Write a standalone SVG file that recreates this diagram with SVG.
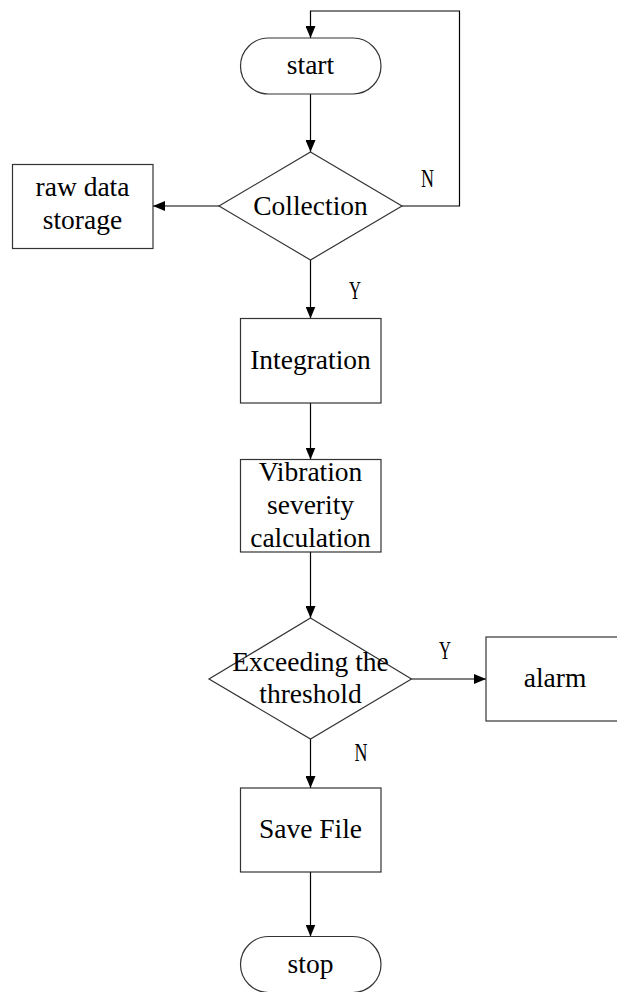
<svg xmlns="http://www.w3.org/2000/svg" width="617" height="992" viewBox="0 0 617 992">
<style>
.shape{fill:#fff;stroke:#333;stroke-width:1.2}
.line{fill:none;stroke:#000;stroke-width:1.2}
.t{font-family:"Liberation Serif","Times New Roman",serif;font-size:27.5px;fill:#000;text-anchor:middle}
.lbl{font-family:"Liberation Serif","Times New Roman",serif;font-size:25px;fill:#000;text-anchor:middle}
</style>
<defs>
<marker id="arr" viewBox="0 0 12 10" refX="12" refY="5" markerWidth="12" markerHeight="10" markerUnits="userSpaceOnUse" orient="auto">
<path d="M0,0 L12,5 L0,10 Z" fill="#000"/>
</marker>
</defs>
<rect width="617" height="992" fill="#fff"/>
<g id="connectors">
<path class="line" d="M402,206 H459.5 V11 H310.5 V38" marker-end="url(#arr)"/>
<path class="line" d="M310.5,94 V152" marker-end="url(#arr)"/>
<path class="line" d="M219,206 H153" marker-end="url(#arr)"/>
<path class="line" d="M310.5,260 V318.5" marker-end="url(#arr)"/>
<path class="line" d="M310.5,403 V459.5" marker-end="url(#arr)"/>
<path class="line" d="M310.5,552 V618" marker-end="url(#arr)"/>
<path class="line" d="M411.5,679 H486" marker-end="url(#arr)"/>
<path class="line" d="M310.5,739 V788" marker-end="url(#arr)"/>
<path class="line" d="M310.5,872 V936.5" marker-end="url(#arr)"/>
<text class="lbl" x="427.5" y="187" textLength="13" lengthAdjust="spacingAndGlyphs">N</text>
<text class="lbl" x="355" y="299" textLength="12" lengthAdjust="spacingAndGlyphs">Y</text>
<text class="lbl" x="445" y="659" textLength="12" lengthAdjust="spacingAndGlyphs">Y</text>
<text class="lbl" x="361" y="761" textLength="13" lengthAdjust="spacingAndGlyphs">N</text>
</g>
<g id="start">
<rect class="shape" x="240.5" y="38" width="140.5" height="56" rx="28" ry="28"/>
<text class="t" x="310.5" y="74">start</text>
</g>
<g id="collection">
<path class="shape" d="M310.5,152 L402,206 L310.5,260 L219,206 Z"/>
<text class="t" x="310.5" y="215">Collection</text>
</g>
<g id="raw-data-storage">
<rect class="shape" x="12.5" y="164.5" width="140.5" height="84"/>
<text class="t" x="82.5" y="196">raw data</text>
<text class="t" x="82.5" y="229">storage</text>
</g>
<g id="integration">
<rect class="shape" x="240.5" y="318.5" width="140.5" height="84.5"/>
<text class="t" x="310.5" y="369">Integration</text>
</g>
<g id="vibration">
<rect class="shape" x="240.5" y="459.5" width="140.5" height="92.5"/>
<text class="t" x="310.5" y="481">Vibration</text>
<text class="t" x="310.5" y="514">severity</text>
<text class="t" x="310.5" y="547">calculation</text>
</g>
<g id="threshold">
<path class="shape" d="M310.5,618 L411.5,679 L310.5,739 L209,679 Z"/>
<text class="t" x="310.5" y="671">Exceeding the</text>
<text class="t" x="310.5" y="703">threshold</text>
</g>
<g id="alarm">
<rect class="shape" x="486" y="637" width="141" height="84"/>
<text class="t" x="555" y="687">alarm</text>
</g>
<g id="save-file">
<rect class="shape" x="240.5" y="788" width="140.5" height="84"/>
<text class="t" x="310.5" y="838">Save File</text>
</g>
<g id="stop">
<rect class="shape" x="240.5" y="936.5" width="140.5" height="56" rx="28" ry="28"/>
<text class="t" x="310.5" y="973">stop</text>
</g>
</svg>
